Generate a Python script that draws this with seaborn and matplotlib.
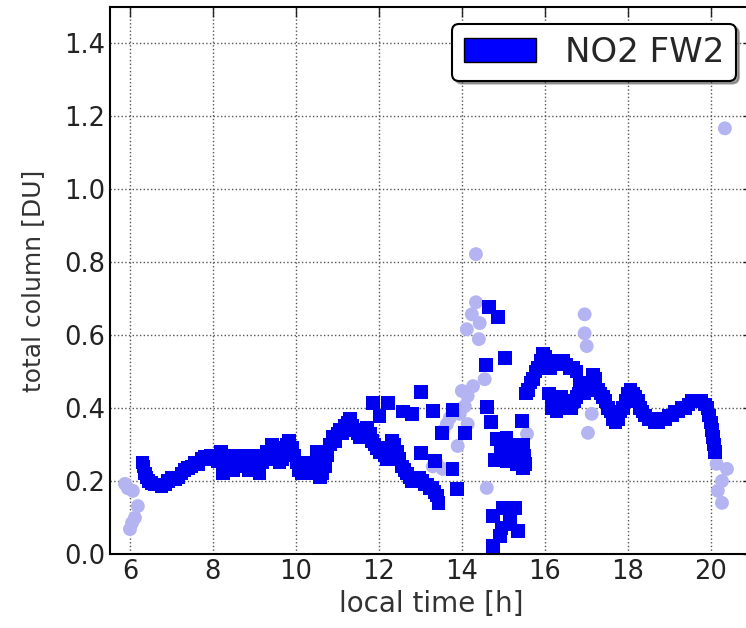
import numpy as np
import pandas as pd
import seaborn as sns
import matplotlib.pyplot as plt
from matplotlib.patches import Patch

# dark blue points: accepted measurements (local time [h], total column [DU])
dark_time = [6.30, 6.33, 6.36, 6.40, 6.45, 6.52, 6.60, 6.68, 6.76, 6.84, 6.92, 7.00, 7.08, 7.16,
             7.24, 7.32, 7.40, 7.48, 7.56, 7.64, 7.72, 7.80, 7.88, 7.96, 8.04, 8.12, 8.20, 8.24,
             8.28, 8.32, 8.40, 8.48, 8.52, 8.60, 8.66, 8.72, 8.80, 8.86, 8.92, 9.00, 9.06, 9.12,
             9.18, 9.24, 9.30, 9.36, 9.42, 9.48, 9.54, 9.60, 9.66, 9.72, 9.78, 9.84, 9.90, 9.96,
             10.02, 10.08, 10.14, 10.20, 10.26, 10.32, 10.38, 10.44, 10.50, 10.54, 10.58, 10.64,
             10.70, 10.76, 10.82, 10.88, 10.94, 11.00, 11.06, 11.12, 11.18, 11.24, 11.30, 11.36,
             11.42, 11.48, 11.54, 11.60, 11.66, 11.72, 11.78, 11.84, 11.90, 11.96, 12.02, 12.08,
             12.14, 12.20, 12.26, 12.32, 12.38, 12.44, 12.50, 12.56, 12.62, 12.68, 12.74, 12.80,
             12.86, 12.92, 12.98, 13.04, 13.10, 13.16, 13.22, 13.28, 13.34, 13.40, 13.44,
             11.86, 12.22, 12.02, 12.58, 12.80, 13.01, 13.30, 13.52, 13.78, 14.07, 13.01, 13.35,
             13.78, 13.88,
             14.65, 14.87, 15.04, 14.58, 14.60, 14.70, 14.84, 15.08, 15.28, 14.80, 15.08, 15.33,
             15.45, 15.47, 15.47, 14.94, 15.18, 15.22, 15.52, 15.50,
             14.75, 14.99, 15.28, 14.96, 15.16, 15.35, 14.92, 14.75, 15.16,
             15.55, 15.60, 15.66, 15.72, 15.78, 15.84, 15.90, 15.96, 16.02, 16.08, 16.14, 16.20,
             16.28, 16.36, 16.44, 16.52, 16.60, 16.68, 16.76, 16.84,
             16.10, 16.16, 16.22, 16.28, 16.34, 16.40, 16.46, 16.52, 16.58, 16.64, 16.70, 16.76,
             16.82, 16.88, 16.94, 16.17,
             17.10, 17.16, 17.22, 17.28, 17.34, 17.40, 17.46, 17.52, 17.58, 17.64, 17.70, 17.76,
             17.82, 17.88, 17.94, 18.00, 18.06, 18.12, 18.18, 18.24, 18.30, 18.36, 18.42, 18.50,
             18.58, 18.66, 18.74, 18.82, 18.90, 18.98, 19.06, 19.14, 19.22, 19.30, 19.38, 19.46,
             19.54, 19.62, 19.70, 19.78, 19.86, 19.92, 19.96, 20.00, 20.03, 20.06, 20.08, 20.10]
dark_column = [0.25, 0.24, 0.22, 0.21, 0.20, 0.195, 0.19, 0.19, 0.185, 0.19, 0.20, 0.21, 0.205, 0.21,
               0.22, 0.23, 0.235, 0.24, 0.25, 0.245, 0.26, 0.265, 0.26, 0.27, 0.265, 0.255, 0.28, 0.22,
               0.24, 0.27, 0.26, 0.23, 0.27, 0.26, 0.24, 0.27, 0.25, 0.23, 0.26, 0.27, 0.24, 0.22,
               0.25, 0.27, 0.28, 0.26, 0.30, 0.29, 0.27, 0.25, 0.26, 0.28, 0.30, 0.31, 0.29, 0.27,
               0.25, 0.23, 0.22, 0.24, 0.23, 0.25, 0.22, 0.24, 0.28, 0.26, 0.21, 0.22,
               0.24, 0.27, 0.30, 0.32, 0.31, 0.33, 0.34, 0.33, 0.35, 0.36, 0.37, 0.35,
               0.34, 0.33, 0.32, 0.33, 0.34, 0.345, 0.33, 0.31, 0.30, 0.29, 0.28, 0.29,
               0.27, 0.26, 0.28, 0.31, 0.30, 0.28, 0.26, 0.24, 0.23, 0.22, 0.21, 0.20,
               0.21, 0.20, 0.21, 0.20, 0.19, 0.19, 0.18, 0.18, 0.17, 0.16, 0.14,
               0.414, 0.414, 0.378, 0.39, 0.383, 0.444, 0.392, 0.332, 0.395, 0.332, 0.277, 0.255,
               0.233, 0.178,
               0.677, 0.649, 0.537, 0.518, 0.403, 0.362, 0.315, 0.318, 0.30, 0.258, 0.255, 0.247,
               0.364, 0.30, 0.236, 0.28, 0.28, 0.26, 0.247, 0.27,
               0.104, 0.126, 0.126, 0.071, 0.082, 0.063, 0.049, 0.022, 0.099,
               0.44, 0.45, 0.47, 0.48, 0.50, 0.51, 0.53, 0.55, 0.54, 0.52, 0.51, 0.52,
               0.53, 0.52, 0.53, 0.52, 0.51, 0.51, 0.50, 0.47,
               0.44, 0.42, 0.40, 0.39, 0.41, 0.43, 0.42, 0.40, 0.41, 0.40, 0.42, 0.43,
               0.44, 0.45, 0.44, 0.40,
               0.47, 0.49, 0.48, 0.45, 0.44, 0.43, 0.42, 0.40, 0.39, 0.37, 0.36, 0.37,
               0.39, 0.40, 0.42, 0.44, 0.45, 0.44, 0.43, 0.42, 0.40, 0.39, 0.38, 0.37,
               0.37, 0.36, 0.36, 0.37, 0.37, 0.38, 0.38, 0.39, 0.39, 0.40, 0.40, 0.41,
               0.42, 0.42, 0.42, 0.42, 0.41, 0.40, 0.38, 0.36, 0.34, 0.32, 0.30, 0.28]

# light blue points: flagged measurements
light_time = [5.88, 5.95, 6.07, 6.19, 6.12, 6.00, 6.05,
              13.30, 13.40, 13.54, 13.54, 13.64, 13.71, 13.90, 13.95, 14.00, 14.07, 14.14, 14.14,
              14.27, 14.55, 14.12, 14.24, 14.34, 14.43, 14.41, 14.34, 14.60, 15.57,
              16.96, 16.96, 17.01, 17.13, 17.04,
              20.14, 20.39, 20.27, 20.17, 20.27, 20.34]
light_column = [0.192, 0.18, 0.173, 0.131, 0.099, 0.068, 0.085,
                0.24, 0.247, 0.233, 0.337, 0.356, 0.373, 0.296, 0.384, 0.447, 0.405, 0.433, 0.356,
                0.46, 0.479, 0.616, 0.657, 0.69, 0.633, 0.589, 0.822, 0.181, 0.329,
                0.657, 0.605, 0.57, 0.384, 0.332,
                0.247, 0.233, 0.2, 0.173, 0.14, 1.167]

dark = pd.DataFrame({"time": dark_time, "column": dark_column})
light = pd.DataFrame({"time": light_time, "column": light_column})

sns.set_style("white")
plt.rcParams["font.family"] = ["DejaVu Sans"]
plt.rcParams["xtick.direction"] = "in"
plt.rcParams["ytick.direction"] = "in"

fig = plt.figure(figsize=(7.46, 6.28), dpi=100)
# right spine sits just past the picture edge, as in the reference crop
ax = fig.add_axes([0.1475, 0.118, 0.862, 0.871])

sns.scatterplot(data=light, x="time", y="column", ax=ax, marker="o", s=100,
                color="#b4b4f2", edgecolor="none", linewidth=0, zorder=2)
sns.scatterplot(data=dark, x="time", y="column", ax=ax, marker="s", s=95,
                color="#0000f0", edgecolor="none", linewidth=0, zorder=3)

ax.set_xlim(5.52, 21.02)
ax.set_ylim(0, 1.5)
ax.set_xticks(np.arange(6, 21, 2))
ax.set_yticks(np.arange(0, 1.41, 0.2))
ax.set_yticklabels([f"{v:.1f}" for v in np.arange(0, 1.41, 0.2)])
ax.tick_params(labelsize=18.5, length=7, width=1, top=True, right=True, colors="#222222")
ax.grid(True, linestyle=":", color="#555555", linewidth=1)
for sp in ax.spines.values():
    sp.set_color("black")
    sp.set_linewidth(1.5)

ax.set_xlabel("local time [h]", fontsize=20, labelpad=4, color="#333333")
ax.set_ylabel("total column [DU]", fontsize=18, labelpad=14, color="#333333")

handle = Patch(facecolor="blue", edgecolor="black", label="NO2 FW2")
leg = ax.legend(handles=[handle], loc="upper right", fontsize=24.5, frameon=True,
                fancybox=True, shadow=True, borderpad=0.35, handlelength=2.1,
                handletextpad=0.85, borderaxespad=0.5, framealpha=1)
leg.get_frame().set_edgecolor("black")
leg.get_frame().set_linewidth(1.5)

fig.savefig("out.png", dpi=100)
